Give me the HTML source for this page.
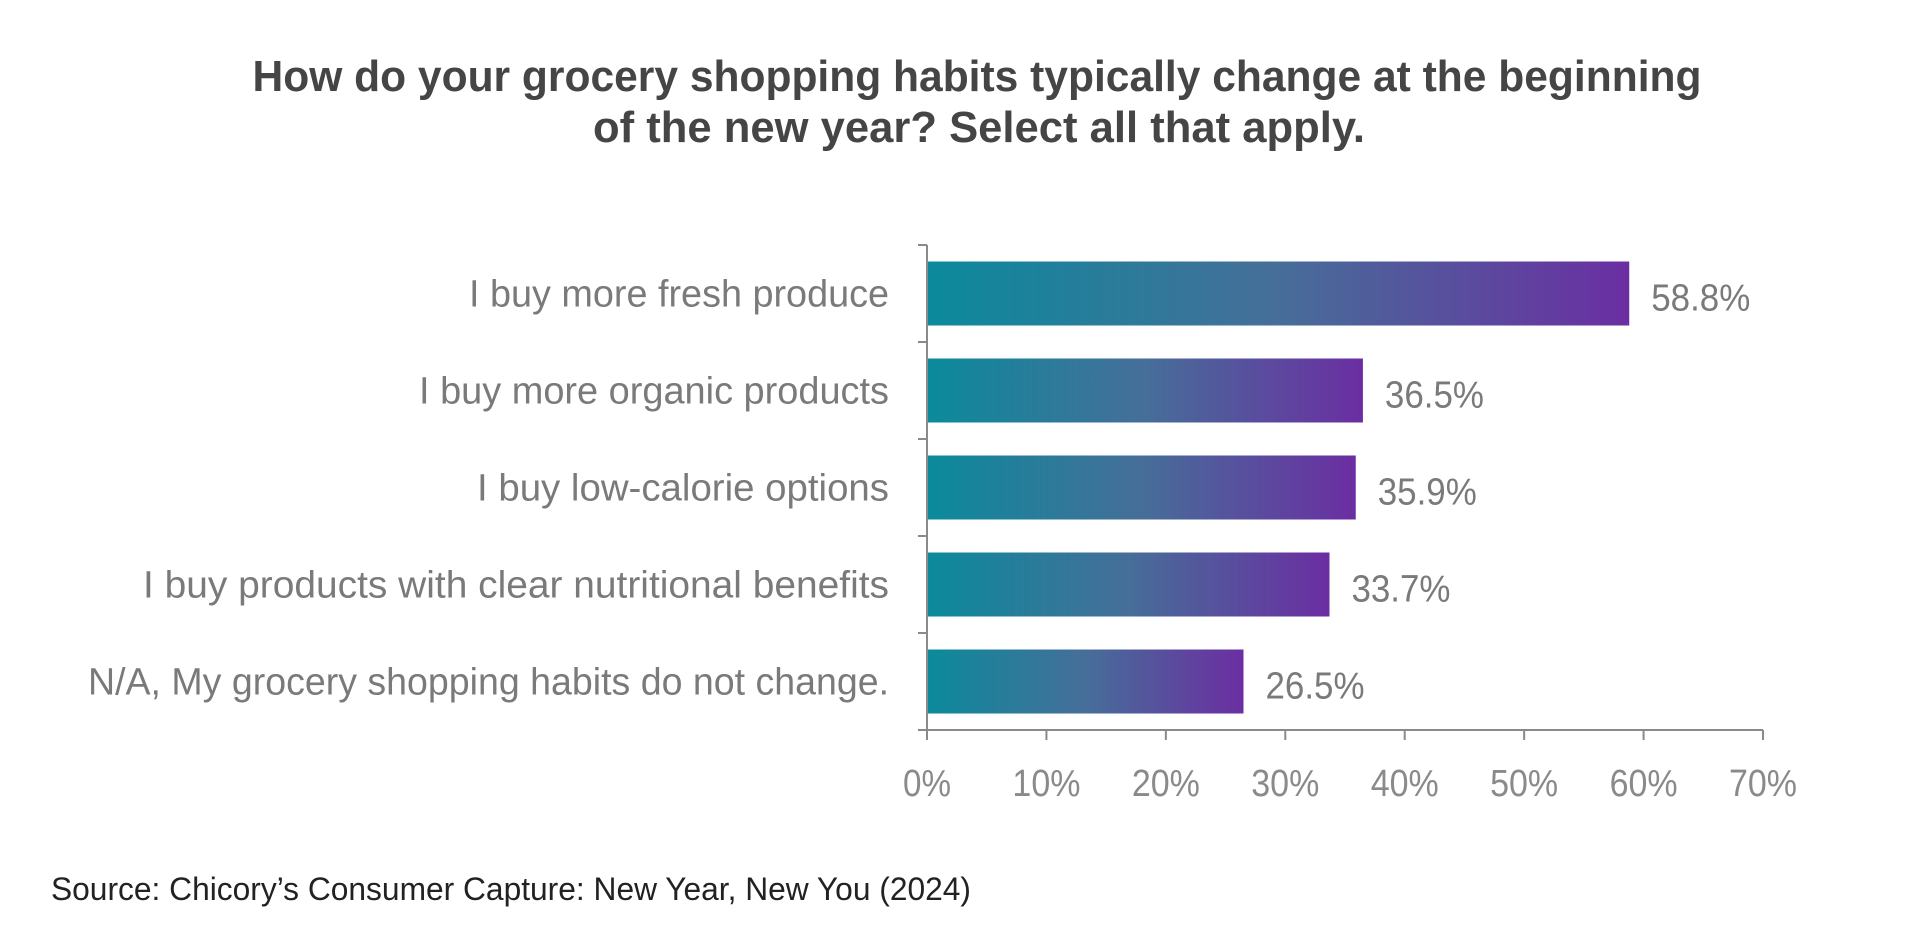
<!DOCTYPE html>
<html><head><meta charset="utf-8"><style>
html,body{margin:0;padding:0;background:#fff;}
svg{display:block;font-family:"Liberation Sans",sans-serif;}
</style></head><body>
<svg width="1920" height="936" viewBox="0 0 1920 936">
<defs><linearGradient id="g" x1="0" x2="1" y1="0" y2="0"><stop offset="0" stop-color="#0b8a9c"/><stop offset="0.5" stop-color="#466e99"/><stop offset="1" stop-color="#6b2ea2"/></linearGradient></defs>
<text x="977" y="91" text-anchor="middle" font-size="44" font-weight="bold" fill="#454545" textLength="1449" lengthAdjust="spacingAndGlyphs">How do your grocery shopping habits typically change at the beginning</text>
<text x="979" y="142" text-anchor="middle" font-size="44" font-weight="bold" fill="#454545" textLength="772" lengthAdjust="spacingAndGlyphs">of the new year? Select all that apply.</text>
<g id="plot"></g>
<text x="51" y="900" font-size="32" fill="#222" textLength="920" lengthAdjust="spacingAndGlyphs">Source: Chicory’s Consumer Capture: New Year, New You (2024)</text>
</svg>
<script>
const categories=["I buy more fresh produce","I buy more organic products","I buy low-calorie options","I buy products with clear nutritional benefits","N/A, My grocery shopping habits do not change."];
const values=[58.8,36.5,35.9,33.7,26.5];
const valueLabels=["58.8%","36.5%","35.9%","33.7%","26.5%"];
const ticks=[0,10,20,30,40,50,60,70];
const labelWidths=[420,470,412,746,801];
const NS="http://www.w3.org/2000/svg";
const g=document.getElementById('plot');
const x0=927,x1=1763,xmax=70,yTop=245,yBot=730;
const xs=v=>x0+(v/xmax)*(x1-x0);
const band=(yBot-yTop)/categories.length;
function mk(t,a){const e=document.createElementNS(NS,t);for(const k in a)e.setAttribute(k,a[k]);g.appendChild(e);return e;}
mk('line',{x1:x0,y1:yTop,x2:x0,y2:yBot,stroke:'#8a8a8a','stroke-width':2});
mk('line',{x1:x0,y1:yBot,x2:x1,y2:yBot,stroke:'#8a8a8a','stroke-width':2});
for(let i=0;i<=categories.length;i++){const y=yTop+i*band;const t=mk('line',{x1:x0-9,y1:y,x2:x0,y2:y,stroke:'#8a8a8a','stroke-width':2});

}
ticks.forEach(v=>{const x=xs(v);const l=mk('line',{x1:x,y1:yBot,x2:x,y2:yBot+10,stroke:'#8a8a8a','stroke-width':2});


const t=mk('text',{x:x,y:796,'text-anchor':'middle','font-size':38,fill:'#8a8a8a',textLength:(v===0?48:68),lengthAdjust:'spacingAndGlyphs'});t.textContent=v+'%';

});
categories.forEach((c,i)=>{const cy=yTop+band*(i+0.5);const h=64;
const r=mk('rect',{x:x0+1,y:cy-h/2,width:xs(values[i])-x0-1,height:h,fill:'url(#g)'});


const v=mk('text',{x:xs(values[i])+22,y:cy+17,'font-size':38,fill:'#7a7a7a',textLength:99,lengthAdjust:'spacingAndGlyphs'});v.textContent=valueLabels[i];


const l=mk('text',{x:889,y:cy+13,'text-anchor':'end','font-size':38,fill:'#7a7a7a',textLength:labelWidths[i],lengthAdjust:'spacingAndGlyphs'});l.textContent=c;

});
</script>
</body></html>
